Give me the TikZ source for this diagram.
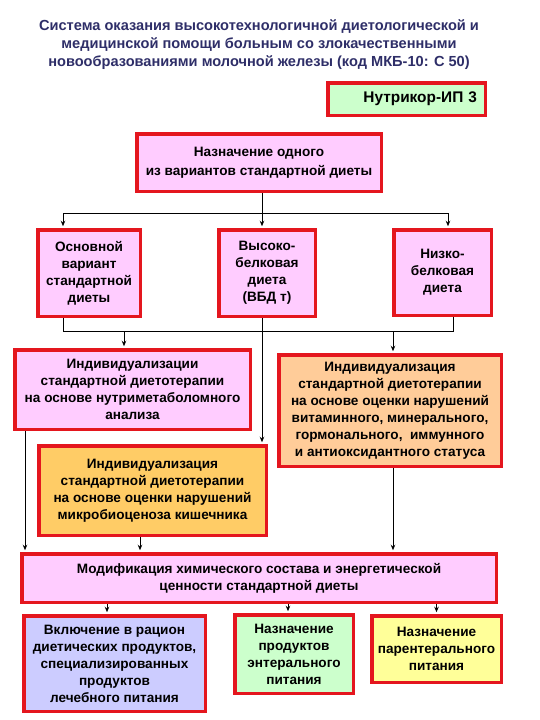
\documentclass[tikz,border=0pt]{standalone}
\usepackage{fontspec}
\setmainfont{Liberation Sans}
\usetikzlibrary{arrows.meta,backgrounds}
\definecolor{boxred}{RGB}{228,22,30}
\definecolor{titleblue}{RGB}{46,46,104}
\definecolor{pinkfill}{RGB}{255,204,255}
\definecolor{orangefill}{RGB}{255,204,102}
\definecolor{peachfill}{RGB}{255,204,153}
\definecolor{lilacfill}{RGB}{204,204,255}
\definecolor{greenfill}{RGB}{204,255,204}
\definecolor{yellowfill}{RGB}{255,255,153}
\begin{document}
\begin{tikzpicture}[x=1pt,y=-1pt,
    box/.style={draw=boxred, line width=3.5pt, inner sep=0pt, align=center,
        font=\fontsize{13.6}{17}\selectfont\bfseries},
    ln/.style={line width=0.9pt},
    arr/.style={ln, -{Stealth[length=5.5pt,width=4.5pt]}, shorten >=1.75pt}]
    \useasboundingbox (0,0) rectangle (540,720);

    % title
    \node[align=center, text=titleblue, font=\fontsize{14.6}{18}\selectfont\bfseries] (title) at (259,45)
        {Система оказания высокотехнологичной диетологической и\\
         медицинской помощи больным со злокачественными\\
         новообразованиями молочной железы (код МКБ-10: С 50)};

    \node[box, fill=greenfill, minimum width=157.5, minimum height=32.5, text width=141, align=right,
        font=\fontsize{15.4}{17}\selectfont\bfseries] (nutri) at (406.5,99) {Нутрикор-ИП 3};

    % diets
    \node[box, fill=pinkfill, minimum width=244.5, minimum height=57.5,
        font=\fontsize{13.6}{19}\selectfont\bfseries] (assign) at (259,162.5)
        {Назначение одного\\из вариантов стандартной диеты};
    \node[box, fill=pinkfill, minimum width=102.5, minimum height=86.5] (basic) at (89,273)
        {Основной\\вариант\\стандартной\\диеты};
    \node[box, fill=pinkfill, minimum width=96.5, minimum height=86.5] (high) at (267,273)
        {Высоко-\\белковая\\диета\\(ВБД т)};
    \node[box, fill=pinkfill, minimum width=97.5, minimum height=85.5] (low) at (442.5,272.5)
        {Низко-\\белковая\\диета};

    % individualisation
    \node[box, fill=pinkfill, minimum width=235.5, minimum height=79.5] (metab) at (132.5,389.5)
        {Индивидуализации\\стандартной диетотерапии\\на основе нутриметаболомного\\анализа};
    \node[box, fill=peachfill, minimum width=222.5, minimum height=111.5] (vitamin) at (390,410.5)
        {Индивидуализация\\стандартной диетотерапии\\на основе оценки нарушений\\витаминного, минерального,\\гормонального, \ иммунного\\и антиоксидантного статуса};
    \node[box, fill=orangefill, minimum width=227.5, minimum height=89.5] (micro) at (152.5,490.5)
        {Индивидуализация\\стандартной диетотерапии\\на основе оценки нарушений\\микробиоценоза кишечника};

    \node[box, fill=pinkfill, minimum width=474.5, minimum height=48.5] (modif) at (259,578)
        {Модификация химического состава и энергетической\\ценности стандартной диеты};

    % products
    \node[box, fill=lilacfill, minimum width=181.5, minimum height=95.5] (diet) at (114.5,663.5)
        {Включение в рацион\\диетических продуктов,\\специализированных\\продуктов\\лечебного питания};
    \node[box, fill=greenfill, minimum width=118.5, minimum height=78.5] (enteral) at (294,654)
        {Назначение\\продуктов\\энтерального\\питания};
    \node[box, fill=yellowfill, minimum width=129.5, minimum height=66.5] (parent) at (436.5,649)
        {Назначение\\парентерального\\питания};

    \coordinate (busA) at (0,213);
    \coordinate (busB) at (0,331);
    \begin{scope}[on background layer]
        \draw[ln] ([xshift=3pt]assign.south) -- ([xshift=3pt]assign.south |- busA);
        \draw[ln] ([xshift=-26pt]basic.north |- busA) -- ([xshift=5.5pt]low.north |- busA);
        \draw[arr] ([xshift=-26pt]basic.north |- busA) -- ([xshift=-26pt]basic.north);
        \draw[arr] ([xshift=-5pt]high.north |- busA) -- ([xshift=-5pt]high.north);
        \draw[arr] ([xshift=5.5pt]low.north |- busA) -- ([xshift=5.5pt]low.north);

        \draw[ln] ([xshift=-26pt]basic.south) -- ([xshift=-26pt]basic.south |- busB)
            -- ([xshift=10.5pt]low.south |- busB) -- ([xshift=10.5pt]low.south);
        \draw[arr] ([xshift=-5pt]high.south) -- ([xshift=-5pt]high.south |- micro.north);
        \draw[arr] ([xshift=-8.5pt]metab.north |- busB) -- ([xshift=-8.5pt]metab.north);
        \draw[arr] ([xshift=3pt]vitamin.north |- busB) -- ([xshift=3pt]vitamin.north);

        \draw[arr] ([xshift=-107.5pt]metab.south) -- ([xshift=-107.5pt]metab.south |- modif.north);
        \draw[arr] ([xshift=-12.5pt]micro.south) -- ([xshift=-12.5pt]micro.south |- modif.north);
        \draw[arr] ([xshift=3pt]vitamin.south) -- ([xshift=3pt]vitamin.south |- modif.north);

        \draw[arr] ([xshift=-7.5pt]diet.north |- modif.south) -- ([xshift=-7.5pt]diet.north);
        \draw[arr] ([xshift=-6pt]enteral.north |- modif.south) -- ([xshift=-6pt]enteral.north);
        \draw[arr] (parent.north |- modif.south) -- (parent.north);
    \end{scope}
\end{tikzpicture}
\end{document}
